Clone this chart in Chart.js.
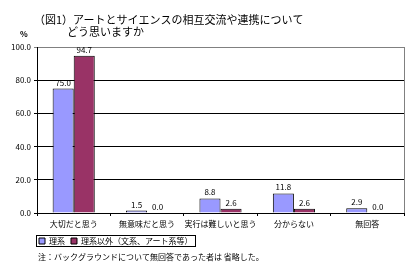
<!DOCTYPE html>
<html><head><meta charset="utf-8">
<script src="https://cdn.jsdelivr.net/npm/chart.js@4/dist/chart.umd.min.js"></script>
<style>html,body{margin:0;padding:0;background:#fff}#wrap{width:417px;height:274px}</style>
</head><body><div id="wrap"><canvas id="c" width="417" height="274"></canvas></div>
<script>
const categories = ['大切だと思う','無意味だと思う','実行は難しいと思う','分からない','無回答'];
const seriesNames = ['理系','理系以外（文系、アート系等）'];
const rikei = [75.0, 1.5, 8.8, 11.8, 2.9];
const rikeiIgai = [94.7, 0.0, 2.6, 2.6, 0.0];
const yMin = 0, yMax = 100, yStep = 20;
const titleLines = ['（図1）アートとサイエンスの相互交流や連携について', '　　　どう思いますか'];
const unitLabel = '%';
const noteText = '注：バックグラウンドについて無回答であった者は 省略した。';

const FONT = "'Noto Sans CJK JP', 'Noto Sans', sans-serif";

const extras = {
  id: 'extras',
  afterLayout(chart) {
    if (chart.legend) chart.legend.left += 33;
  },
  afterDatasetsDraw(chart) {
    const ctx = chart.ctx;
    ctx.save();
    ctx.font = '8px ' + FONT;
    ctx.fillStyle = '#000';
    ctx.textAlign = 'center';
    ctx.textBaseline = 'bottom';
    chart.data.datasets.forEach((ds, i) => {
      chart.getDatasetMeta(i).data.forEach((bar, j) => {
        ctx.fillText(ds.data[j].toFixed(1), bar.x, bar.y - 2);
      });
    });
    const a = chart.chartArea;
    ctx.strokeStyle = '#808080';
    ctx.lineWidth = 1;
    ctx.beginPath();
    ctx.moveTo(Math.round(a.right) + 0.5, a.top);
    ctx.lineTo(Math.round(a.right) + 0.5, a.bottom);
    ctx.stroke();
    ctx.restore();
  },
  afterDraw(chart) {
    const ctx = chart.ctx;
    ctx.save();
    ctx.fillStyle = '#000';
    ctx.textBaseline = 'middle';
    ctx.textAlign = 'left';
    ctx.font = '11px ' + FONT;
    ctx.fillText(titleLines[0], 34, 20);
    ctx.fillText(titleLines[1], 34, 32);
    ctx.font = 'bold 8px ' + FONT;
    ctx.fillText(unitLabel, 20, 34);
    ctx.font = '8px ' + FONT;
    ctx.fillText(noteText, 38, 257);
    const lg = chart.legend;
    if (lg && lg.legendHitBoxes && lg.legendHitBoxes.length) {
      const hb = lg.legendHitBoxes;
      const x0 = hb[0].left - 3;
      const last = hb[hb.length - 1];
      const x1 = last.left + last.width + 2;
      const y0 = hb[0].top - 2;
      const y1 = hb[0].top + hb[0].height + 1;
      ctx.strokeStyle = '#000';
      ctx.lineWidth = 1;
      ctx.strokeRect(Math.round(x0) + 0.5, Math.round(y0) + 0.5, Math.round(x1 - x0), Math.round(y1 - y0));
    }
    ctx.restore();
  }
};

new Chart(document.getElementById('c'), {
  type: 'bar',
  data: {
    labels: categories,
    datasets: [
      { label: seriesNames[0], data: rikei, backgroundColor: '#9999FF', borderColor: '#000', borderWidth: 1 },
      { label: seriesNames[1], data: rikeiIgai, backgroundColor: '#993366', borderColor: '#000', borderWidth: 1 }
    ]
  },
  options: {
    responsive: false,
    animation: false,
    devicePixelRatio: 1,
    categoryPercentage: 0.574,
    barPercentage: 1.0,
    layout: { padding: { left: 0, right: 13, top: 47, bottom: 19 } },
    plugins: {
      legend: {
        position: 'bottom', align: 'start',
        labels: { boxWidth: 6, boxHeight: 6, padding: 6, color: '#000', font: { size: 8, family: FONT } }
      },
      title: { display: false },
      tooltip: { enabled: false }
    },
    scales: {
      x: {
        grid: { display: true, drawOnChartArea: false, color: '#000', tickLength: 3, offset: true },
        border: { color: '#000' },
        ticks: { color: '#000', font: { size: 8, family: FONT }, padding: 3, maxRotation: 0, autoSkip: false },
        afterFit(s) { s.height = 18; }
      },
      y: {
        min: yMin, max: yMax,
        grid: { color: c => (c.tick && c.tick.value === yMax) ? '#808080' : '#000', tickLength: 3 },
        border: { color: '#000' },
        ticks: { stepSize: yStep, color: '#000', font: { size: 8, family: FONT }, padding: 3, callback: v => Number(v).toFixed(1) },
        afterFit(s) { s.width = 37; }
      }
    }
  },
  plugins: [extras]
});
</script></body></html>
